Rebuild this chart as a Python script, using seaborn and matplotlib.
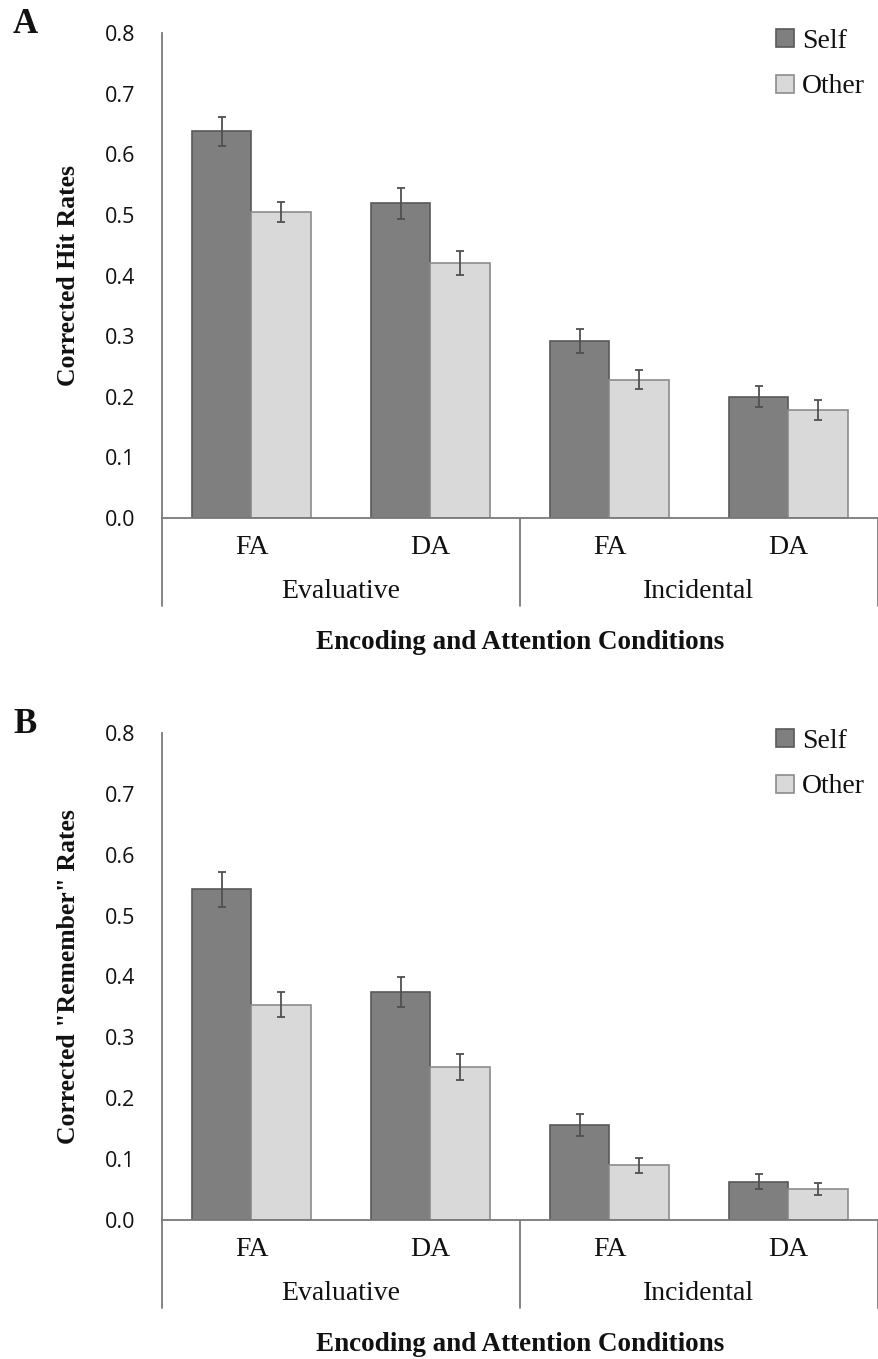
import numpy as np
import pandas as pd
import matplotlib
matplotlib.use("Agg")
import matplotlib.pyplot as plt
from matplotlib.patches import Patch
import seaborn as sns

# conditions (x categories) and labels
conditions = ["Evaluative FA", "Evaluative DA", "Incidental FA", "Incidental DA"]
tick_labels = ["FA", "DA", "FA", "DA"]
groups = ["Evaluative", "Incidental"]
targets = ["Self", "Other"]

# panel A: corrected hit rates (mean, SE)
hit_self = [0.638, 0.519, 0.292, 0.200]
hit_other = [0.505, 0.421, 0.228, 0.178]
hit_self_se = [0.024, 0.025, 0.020, 0.017]
hit_other_se = [0.017, 0.020, 0.016, 0.016]

# panel B: corrected "remember" rates (mean, SE)
rem_self = [0.543, 0.375, 0.156, 0.063]
rem_other = [0.354, 0.251, 0.090, 0.051]
rem_self_se = [0.029, 0.025, 0.018, 0.012]
rem_other_se = [0.021, 0.021, 0.012, 0.010]

yticks = [0.0, 0.1, 0.2, 0.3, 0.4, 0.5, 0.6, 0.7, 0.8]

sns.set_style("white")
plt.rcParams["font.family"] = ["Liberation Serif", "DejaVu Serif"]

fills = {"Self": "#7f7f7f", "Other": "#d9d9d9"}
edges = {"Self": "#595959", "Other": "#8c8c8c"}
axis_grey = "#7a7a7a"
ink = "#111111"

W, H = 879, 1359
fig = plt.figure(figsize=(W / 100, H / 100), dpi=100)


def draw_panel(ax, self_vals, other_vals, self_se, other_se, ylabel, letter, letter_y):
    df = pd.DataFrame({
        "condition": conditions * 2,
        "target": ["Self"] * 4 + ["Other"] * 4,
        "rate": self_vals + other_vals,
        "se": self_se + other_se,
    })
    sns.barplot(data=df, x="condition", y="rate", hue="target", order=conditions,
                hue_order=targets, palette=fills, errorbar=None, width=0.67,
                linewidth=1.2, legend=False, ax=ax)
    for cont, t in zip(ax.containers, targets):
        ses = df[df.target == t]["se"].values
        for bar, e in zip(cont, ses):
            bar.set_edgecolor(edges[t])
            cx = bar.get_x() + bar.get_width() / 2
            ax.errorbar(cx, bar.get_height(), yerr=e, color="#505050",
                        elinewidth=1.3, capsize=3, capthick=1.3, zorder=5)

    ax.set_xlim(-0.5, 3.5)
    ax.set_ylim(0, 0.8)
    ax.set_yticks(yticks)
    ax.set_yticklabels([f"{v:.1f}" for v in yticks], family="Open Sans", fontsize=15.5)
    ax.tick_params(axis="y", length=8, width=1.1, color=axis_grey, pad=11, labelcolor=ink)
    ax.set_xticks(range(4))
    ax.set_xticklabels([])
    ax.tick_params(axis="x", length=0)
    sns.despine(ax=ax)
    for s in ["left", "bottom"]:
        ax.spines[s].set_color(axis_grey)
        ax.spines[s].set_linewidth(1.3)

    ax.set_xlabel("")
    ax.set_ylabel(ylabel, fontsize=18.5, fontweight="bold", va="center", color=ink)
    ax.yaxis.set_label_coords(-0.13, 0.5)

    xt = ax.get_xaxis_transform()
    for i, lab in enumerate(tick_labels):
        ax.annotate(lab, xy=(i, 0), xycoords=xt, xytext=(0, -36 * 0.72),
                    textcoords="offset points", ha="center", va="baseline",
                    fontsize=20, color=ink)
    for g, cx in zip(groups, [0.5, 2.5]):
        ax.annotate(g, xy=(cx, 0), xycoords=xt, xytext=(0, -80 * 0.72),
                    textcoords="offset points", ha="center", va="baseline",
                    fontsize=20, color=ink)
    ax.annotate("Encoding and Attention Conditions", xy=(1.5, 0), xycoords=xt,
                xytext=(0, -131 * 0.72), textcoords="offset points", ha="center",
                va="baseline", fontsize=19.5, fontweight="bold", color=ink)
    for xv in [-0.5, 1.5, 3.5]:
        ax.plot([xv, xv], [0, -88 / (ax.get_position().height * H)], transform=xt,
                color=axis_grey, lw=1.3, clip_on=False)

    handles = [Patch(facecolor=fills[t], edgecolor=edges[t], linewidth=1.2, label=t)
               for t in targets]
    leg = ax.legend(handles=handles, loc="upper left", bbox_to_anchor=(0.858, 1.009),
                    frameon=False, fontsize=20, handlelength=0.62, handleheight=0.62,
                    handletextpad=0.3, labelspacing=0.75, borderpad=0, borderaxespad=0)
    for txt in leg.get_texts():
        txt.set_color(ink)

    fig.text(13 / W, 1 - letter_y / H, letter, fontsize=25, fontweight="bold",
             va="baseline", ha="left", color=ink)


axA = fig.add_axes([162 / W, 1 - 518 / H, 716 / W, 485 / H])
draw_panel(axA, hit_self, hit_other, hit_self_se, hit_other_se,
           "Corrected Hit Rates", "A", 33)

axB = fig.add_axes([162 / W, 1 - 1220 / H, 716 / W, 487 / H])
draw_panel(axB, rem_self, rem_other, rem_self_se, rem_other_se,
           'Corrected "Remember" Rates', "B", 733)

fig.savefig("out.png", dpi=100)
